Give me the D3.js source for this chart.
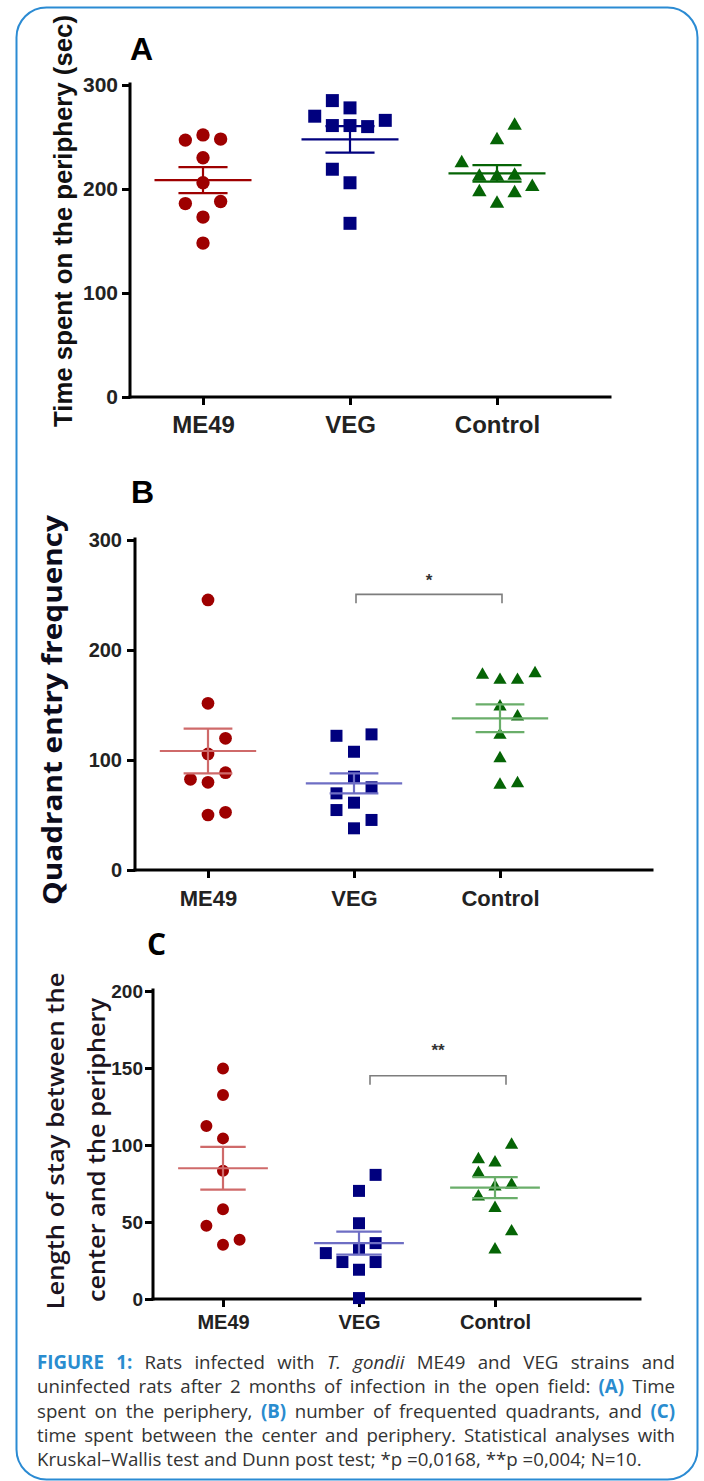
<!DOCTYPE html>
<html>
<head>
<meta charset="utf-8">
<script src="https://cdn.jsdelivr.net/npm/d3@7"></script>
<style>
  body { margin: 0; background: #fff; }
  #chart { width: 704px; height: 1481px; }
</style>
</head>
<body>
<div id="chart"></div>
<script>
// groups on the x axis
const groups = ["ME49", "VEG", "Control"];

// panel A - time spent on the periphery (sec)
const aME49 = [252, 247, 248, 230, 206, 186, 188, 173, 148];
const aME49Slot = [0, -1, 1, 0, 0, -1, 1, 0, 0];
const aVEG = [285, 278, 270, 261, 261, 260, 266, 219, 206, 167];
const aVEGSlot = [-1, 0, -2, -1, 0, 1, 2, -1, 0, 0];
const aControl = [261, 247, 225, 212, 212, 213, 202, 197, 196, 186];
const aControlSlot = [1, 0, -2, -1, 0, 1, 2, -1, 1, 0];
const aMean = [208.6, 247.7, 215];
const aSem = [12.5, 12.7, 8];

// panel B - quadrant entry frequency
const bME49 = [245.5, 151.5, 119.7, 105.5, 88.5, 82.4, 79.7, 50, 52.4];
const bME49Slot = [0, 0, 1, 0, 1, -1, 0, 0, 1];
const bVEG = [122, 123.3, 107.5, 84.8, 75.2, 69.7, 61.2, 54.5, 45.5, 37.9];
const bVEGSlot = [-1, 1, 0, 0, 1, -1, 0, -1, 1, 0];
const bControl = [177.3, 172.7, 172.7, 178.8, 148.5, 139.4, 122.7, 101.5, 77.3, 78.8];
const bControlSlot = [-1, 0, 1, 2, 0, 1, 0, 0, 0, 1];
const bMean = [108.2, 78.8, 137.9];
const bSem = [20.3, 9.1, 12.6];

// panel C - length of stay between center and periphery
const cME49 = [149.7, 132.4, 112.3, 104.3, 83.3, 58.3, 47.5, 35.2, 38.4];
const cME49Slot = [0, 0, -1, 0, 0, 0, -1, 0, 1];
const cVEG = [80.6, 70.2, 49.2, 36.3, 32.4, 29.8, 24, 24, 19, 0.6];
const cVEGSlot = [1, 0, 0, 1, 0, -2, -1, 1, 0, 0];
const cControl = [100, 90.7, 88.5, 81.7, 73, 74.1, 66.5, 59, 43.8, 32];
const cControlSlot = [1, -1, 0, -1, 0, 1, -1, 0, 1, 0];
const cMean = [84.9, 36.3, 72.3];
const cSem = [13.9, 7.5, 6.8];

const dark = { ME49: "#9e0000", VEG: "#00007e", Control: "#056405" };
const light = { ME49: "#cf6a6a", VEG: "#6e6ec4", Control: "#6aae6a" };

const svg = d3.select("#chart").append("svg")
    .attr("width", 704)
    .attr("height", 1481);

// blue rounded frame
svg.append("rect")
    .attr("x", 16.5).attr("y", 7.5)
    .attr("width", 681).attr("height", 1472)
    .attr("rx", 30)
    .attr("fill", "none")
    .attr("stroke", "#2b8bd3")
    .attr("stroke-width", 2);

function drawPanel(p) {
    const g = svg.append("g");
    const x = d3.scalePoint().domain(groups).range([p.x0, p.x1]);
    const y = d3.scaleLinear().domain([0, p.yMax]).range([p.bottom, p.top]);
    const step = x.step();

    // y axis
    const ya = g.append("g")
        .attr("transform", `translate(${p.left},0)`)
        .call(d3.axisLeft(y).tickValues(p.ticks).tickSize(8).tickSizeOuter(0).tickPadding(p.yPad));
    ya.select(".domain").remove();
    ya.selectAll("line").attr("stroke", "#000").attr("stroke-width", 3);
    ya.selectAll("text")
        .attr("font-family", "Liberation Sans, Arial, sans-serif")
        .attr("font-weight", "bold")
        .attr("font-size", p.tickFont)
        .attr("fill", "#222");

    // x axis
    const xa = g.append("g")
        .attr("transform", `translate(0,${p.bottom})`)
        .call(d3.axisBottom(x).tickSize(8).tickPadding(p.xPad));
    xa.select(".domain").remove();
    xa.selectAll("line").attr("stroke", "#000").attr("stroke-width", 3);
    xa.selectAll("text")
        .attr("font-family", "Liberation Sans, Arial, sans-serif")
        .attr("font-weight", "bold")
        .attr("font-size", p.catFont)
        .attr("fill", "#222");

    g.append("line")
        .attr("x1", p.left).attr("x2", p.left)
        .attr("y1", p.top - 1).attr("y2", p.bottom)
        .attr("stroke", "#000").attr("stroke-width", 3).attr("stroke-linecap", "square");
    g.append("line")
        .attr("x1", p.left).attr("x2", p.right)
        .attr("y1", p.bottom).attr("y2", p.bottom)
        .attr("stroke", "#000").attr("stroke-width", 3).attr("stroke-linecap", "square");

    // points
    const shapes = { ME49: d3.symbolCircle, VEG: d3.symbolSquare, Control: d3.symbolTriangle };
    groups.forEach((grp, gi) => {
        const vals = p.values[gi];
        const slots = p.slots[gi];
        const pts = vals.map((v, i) => ({ v: v, s: slots[i] }));
        g.append("g")
            .selectAll("path")
            .data(pts)
            .join("path")
            .attr("d", d3.symbol().type(shapes[grp]).size(p.sizes[gi]))
            .attr("transform", d => `translate(${x(grp) + d.s * step * p.jitter},${y(d.v)})`)
            .attr("fill", dark[grp]);
    });

    // mean +- sem
    const lineCol = p.lightLines ? light : dark;
    groups.forEach((grp, gi) => {
        const cx = x(grp);
        const m = p.mean[gi], s = p.sem[gi];
        const eg = g.append("g").attr("stroke", lineCol[grp]).attr("stroke-width", 2.2);
        eg.append("line")
            .attr("x1", cx - step * 0.33).attr("x2", cx + step * 0.33)
            .attr("y1", y(m)).attr("y2", y(m));
        [m - s, m + s].forEach(v => {
            eg.append("line")
                .attr("x1", cx - step * 0.167).attr("x2", cx + step * 0.167)
                .attr("y1", y(v)).attr("y2", y(v));
        });
        eg.append("line")
            .attr("x1", cx).attr("x2", cx)
            .attr("y1", y(m - s)).attr("y2", y(m + s));
    });

    // significance bracket
    if (p.sig) {
        const bx0 = x(p.sig.from) + p.sig.dx, bx1 = x(p.sig.to) + p.sig.dx;
        const by = y(p.sig.at);
        g.append("path")
            .attr("d", `M${bx0},${by + 9}V${by}H${bx1}V${by + 9}`)
            .attr("fill", "none")
            .attr("stroke", "#7d7d7d")
            .attr("stroke-width", 1.6);
        g.append("text")
            .attr("x", (bx0 + bx1) / 2)
            .attr("y", by - p.sig.gap)
            .attr("text-anchor", "middle")
            .attr("font-family", "Liberation Sans, Arial, sans-serif")
            .attr("font-weight", "bold")
            .attr("font-size", 17)
            .attr("fill", "#333")
            .text(p.sig.label);
    }

    // panel letter
    g.append("text")
        .attr("x", p.letter.x).attr("y", p.letter.y)
        .attr("font-family", p.letter.font)
        .attr("font-weight", "bold")
        .attr("font-size", p.letter.size)
        .attr("fill", "#000")
        .text(p.letter.text);

    // y title(s)
    p.titles.forEach(t => {
        const tx = g.append("text")
            .attr("transform", `translate(${t.x},${t.y}) rotate(-90)`)
            .attr("text-anchor", "middle")
            .attr("font-family", t.font)
            .attr("font-weight", t.weight)
            .attr("font-size", t.size)
            .attr("fill", t.color)
            .attr("textLength", t.len)
            .attr("lengthAdjust", "spacingAndGlyphs");
        tx.text(t.text);
    });
}

drawPanel({
    left: 130, right: 610, top: 85, bottom: 397, x0: 203, x1: 497,
    yMax: 300, ticks: [0, 100, 200, 300], yPad: 4, xPad: 11,
    tickFont: 21, catFont: 24, jitter: 0.12,
    values: [aME49, aVEG, aControl], slots: [aME49Slot, aVEGSlot, aControlSlot],
    mean: aMean, sem: aSem, lightLines: false,
    sizes: [140, 169, 90],
    letter: { text: "A", x: 130, y: 60, size: 32, font: "Liberation Sans, Arial, sans-serif" },
    titles: [{ text: "Time spent on the periphery (sec)", x: 72, y: 221, size: 25, weight: "bold",
               font: "Liberation Sans, Arial, sans-serif", color: "#111", len: 412 }]
});

drawPanel({
    left: 135, right: 652, top: 540, bottom: 870, x0: 208, x1: 500,
    yMax: 300, ticks: [0, 100, 200, 300], yPad: 5, xPad: 12,
    tickFont: 20, catFont: 22, jitter: 0.12,
    values: [bME49, bVEG, bControl], slots: [bME49Slot, bVEGSlot, bControlSlot],
    mean: bMean, sem: bSem, lightLines: true,
    sizes: [127, 144, 76],
    sig: { from: "VEG", to: "Control", at: 250.6, label: "*", dx: 2, gap: 8 },
    letter: { text: "B", x: 131, y: 503, size: 32, font: "Liberation Sans, Arial, sans-serif" },
    titles: [{ text: "Quadrant entry frequency", x: 62, y: 710, size: 26, weight: "bold",
               font: "Open Sans, sans-serif", color: "#0c0c1c", len: 390 }]
});

drawPanel({
    left: 153, right: 640, top: 991, bottom: 1299, x0: 223, x1: 495,
    yMax: 200, ticks: [0, 50, 100, 150, 200], yPad: 2, xPad: 8,
    tickFont: 19, catFont: 20, jitter: 0.122,
    values: [cME49, cVEG, cControl], slots: [cME49Slot, cVEGSlot, cControlSlot],
    mean: cMean, sem: cSem, lightLines: true,
    sizes: [113, 144, 76],
    sig: { from: "VEG", to: "Control", at: 145, label: "**", dx: 11, gap: 20 },
    letter: { text: "C", x: 147, y: 955, size: 30, font: "Open Sans, sans-serif" },
    titles: [
        { text: "Length of stay between the", x: 64, y: 1141, size: 23, weight: 600,
          font: "Open Sans, sans-serif", color: "#1c1420", len: 337 },
        { text: "center and the periphery", x: 105, y: 1150, size: 23, weight: 600,
          font: "Open Sans, sans-serif", color: "#1c1420", len: 304 }
    ]
});

// caption, justified word by word
const captionLines = [
    [["FIGURE 1:", "b"], ["Rats infected with", ""], ["T. gondii", "i"], ["ME49 and VEG strains and", ""]],
    [["uninfected rats after 2 months of infection in the open field:", ""], ["(A)", "b"], ["Time", ""]],
    [["spent on the periphery,", ""], ["(B)", "b"], ["number of frequented quadrants, and", ""], ["(C)", "b"]],
    [["time spent between the center and periphery. Statistical analyses with", ""]],
    [["Kruskal–Wallis test and Dunn post test; *p =0,0168, **p =0,004; N=10.", ""]]
];
const capLeft = 37, capRight = 675, capTop = 1369, capStep = 24.3, capFont = 18.7;

// measure one word on its own so no shaping runs across words
const probe = svg.append("text")
    .attr("font-family", "Open Sans, sans-serif")
    .attr("font-size", capFont)
    .attr("opacity", 0);
function wordWidth(d) {
    probe.attr("font-weight", d.st === "b" ? "bold" : null)
        .attr("font-style", d.st === "i" ? "italic" : null)
        .text(d.w);
    return probe.node().getComputedTextLength();
}

captionLines.forEach((line, li) => {
    const words = [];
    line.forEach(([txt, st]) => txt.split(" ").forEach(w => words.push({ w: w, st: st })));
    const widths = words.map(wordWidth);
    const total = d3.sum(widths);
    const last = li === captionLines.length - 1;
    const gap = last ? capFont * 0.26 : (capRight - capLeft - total) / (words.length - 1);
    let cx = capLeft;
    words.forEach((d, i) => {
        d.x = cx;
        cx += widths[i] + gap;
    });
    svg.append("g")
        .attr("font-family", "Open Sans, sans-serif")
        .attr("font-size", capFont)
        .attr("fill", "#333")
        .selectAll("text")
        .data(words)
        .join("text")
        .attr("x", d => d.x)
        .attr("y", capTop + li * capStep)
        .attr("font-weight", d => d.st === "b" ? "bold" : null)
        .attr("font-style", d => d.st === "i" ? "italic" : null)
        .attr("fill", d => d.st === "b" ? "#2a8ccf" : null)
        .text(d => d.w);
});
probe.remove();
</script>
</body>
</html>
